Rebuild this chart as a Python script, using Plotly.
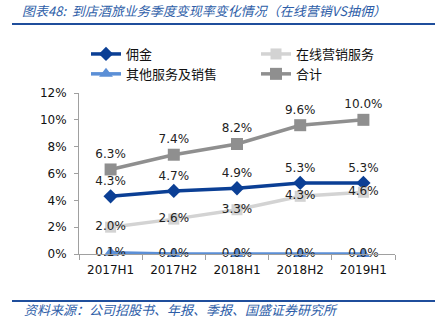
import plotly.graph_objects as go

periods = ["2017H1", "2017H2", "2018H1", "2018H2", "2019H1"]
commission = [4.3, 4.7, 4.9, 5.3, 5.3]
online_marketing = [2.0, 2.6, 3.3, 4.3, 4.6]
other_services = [0.1, 0.0, 0.0, 0.0, 0.0]
total = [6.3, 7.4, 8.2, 9.6, 10.0]

num_font = "Tahoma, 'DejaVu Sans', sans-serif"
cjk_font = "'Noto Sans CJK SC', sans-serif"

series = [
    dict(name="佣金", y=commission, color="#0b3f95", symbol="diamond", size=11,
         pos="top center", legend="legend", rank=1),
    dict(name="在线营销服务", y=online_marketing, color="#d3d3d3", symbol="square", size=11,
         pos="middle center", legend="legend2", rank=1),
    dict(name="其他服务及销售", y=other_services, color="#5b8fd6", symbol="triangle-up", size=12,
         pos="middle center", legend="legend", rank=2),
    dict(name="合计", y=total, color="#8f8f8f", symbol="square", size=12,
         pos="top center", legend="legend2", rank=2),
]

fig = go.Figure()
for s in series:
    fig.add_trace(go.Scatter(
        x=periods, y=[v / 100 for v in s["y"]], name=s["name"],
        mode="lines+markers+text",
        line=dict(color=s["color"], width=3.5),
        marker=dict(symbol=s["symbol"], size=s["size"], color=s["color"]),
        text=[f"{v:.1f}%" for v in s["y"]],
        textposition=s["pos"],
        textfont=dict(family=num_font, size=12, color="#222222"),
        cliponaxis=False,
        legend=s["legend"], legendrank=s["rank"],
    ))

legend_style = dict(
    orientation="v", xref="container", yref="container",
    xanchor="left", yanchor="top", tracegroupgap=0,
    font=dict(family=cjk_font, size=13, color="#111111"),
    bgcolor="rgba(0,0,0,0)", itemwidth=30,
)

fig.update_layout(
    width=441, height=328,
    margin=dict(l=79, r=46, t=93, b=74, autoexpand=False),
    paper_bgcolor="white", plot_bgcolor="white",
    showlegend=True,
    legend=dict(x=86 / 441, y=1 - 39 / 328, **legend_style),
    legend2=dict(x=256 / 441, y=1 - 39 / 328, **legend_style),
    xaxis=dict(
        type="category", range=[-0.5, 4.5],
        showline=True, linecolor="#a0a0a0", linewidth=1,
        ticks="outside", tickson="boundaries", ticklen=5, tickcolor="#a0a0a0",
        showgrid=False, ticklabelstandoff=5,
        tickfont=dict(family=num_font, size=12, color="#111111"),
    ),
    yaxis=dict(
        range=[0, 0.12], dtick=0.02, tickformat=".0%",
        showline=True, linecolor="#a0a0a0", linewidth=1,
        ticks="outside", ticklen=4, tickcolor="#a0a0a0",
        showgrid=False, zeroline=False, ticklabelstandoff=5,
        tickfont=dict(family=num_font, size=12, color="#111111"),
    ),
    title=dict(
        text="<i>图表48:  到店酒旅业务季度变现率变化情况（在线营销VS抽佣）</i>",
        x=22 / 441, xanchor="left", y=1 - 11 / 328, yanchor="middle",
        font=dict(family=cjk_font, size=13, color="#2e5ea8"),
    ),
)

# Rules under the title and above the source note
fig.add_shape(type="line", xref="paper", yref="paper",
              x0=-67 / 316, x1=356 / 316, y0=(328 - 24 - 74) / 161, y1=(328 - 24 - 74) / 161,
              line=dict(color="#1f4e9c", width=2))
fig.add_shape(type="line", xref="paper", yref="paper",
              x0=-67 / 316, x1=356 / 316, y0=-(301 - 254) / 161, y1=-(301 - 254) / 161,
              line=dict(color="#1f4e9c", width=2))

fig.add_annotation(
    text="<i>资料来源：公司招股书、年报、季报、国盛证券研究所</i>",
    xref="paper", yref="paper", x=-57 / 316, y=-(309 - 254) / 161,
    xanchor="left", yanchor="middle", showarrow=False,
    font=dict(family=cjk_font, size=13, color="#2e5ea8"),
)

fig.write_html("out.html")
